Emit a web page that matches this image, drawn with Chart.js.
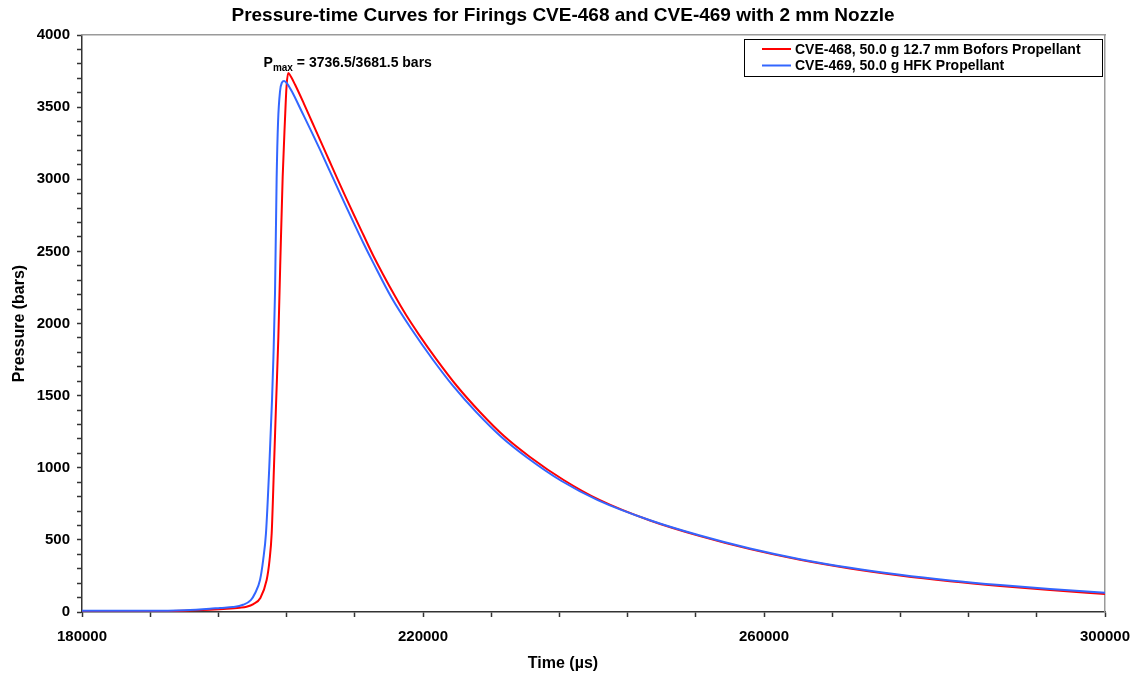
<!DOCTYPE html>
<html>
<head>
<meta charset="utf-8">
<script src="https://cdn.jsdelivr.net/npm/chart.js@4"></script>
<style>
  body { margin: 0; background: #ffffff; }
  canvas { display: block; }
</style>
</head>
<body>
<canvas id="ptChart" width="1138" height="677"></canvas>
<script>
// values
const seriesLabels = ["CVE-468, 50.0 g 12.7 mm Bofors Propellant", "CVE-469, 50.0 g HFK Propellant"];

const redTime = [180000, 184000, 188000, 192000, 195000, 197000, 198500, 199300, 200100, 200900, 201660, 202000, 202250, 202520, 202780, 203030, 203250, 203540, 203800, 204000, 204200, 204500, 205000, 206000, 207000, 208000, 209000, 210000, 211000, 212000, 213000, 214170, 216710, 218000, 219500, 221600, 224000, 226700, 229500, 232550, 236500, 240760, 246630, 252490, 258360, 264220, 270090, 275950, 281820, 287690, 293550, 300000];
const redPressure = [4, 4, 5, 8, 15, 22, 30, 37, 55, 95, 222, 360, 545, 1007, 1470, 1900, 2400, 3018, 3400, 3650, 3736.5, 3712, 3655, 3528, 3395, 3262, 3130, 2998, 2868, 2740, 2615, 2470, 2190, 2060, 1925, 1750, 1565, 1385, 1220, 1075, 915, 775, 634, 526, 436, 362, 302, 253, 213, 180, 152, 125];

const blueTime = [180000, 184000, 188000, 192000, 195000, 196200, 197700, 198900, 199800, 200300, 200880, 201250, 201580, 201970, 202290, 202450, 202640, 202830, 203000, 203230, 203450, 203700, 204100, 204700, 205770, 207000, 208000, 209000, 210000, 211000, 212000, 213000, 214170, 216300, 218600, 221100, 223500, 226300, 229200, 232200, 236200, 240500, 246630, 252490, 258360, 264220, 270090, 275950, 281820, 287690, 293550, 300000];
const bluePressure = [8, 8, 8, 12, 22, 28, 34, 50, 82, 130, 222, 360, 545, 1007, 1470, 1760, 2210, 3000, 3400, 3610, 3670, 3681.5, 3660, 3600, 3470, 3320, 3195, 3065, 2937, 2808, 2682, 2558, 2420, 2180, 1965, 1754, 1569, 1382, 1213, 1071, 910, 776, 636, 530, 440, 366, 306, 258, 219, 187, 160, 134];

const xMin = 180000, xMax = 300000, xMinorStep = 8000, xLabelStep = 40000;
const yMin = 0, yMax = 4000, yMinorStep = 100, yLabelStep = 500;

const annotTime = 201300, annotPressure = 3780;
const annotText = ["P", "max", " = 3736.5/3681.5 bars"];
const xTitle = 'Time (µs)';

const FONT = "'Liberation Sans', Arial, sans-serif";

function pairs(xs, ys) {
  return xs.map((x, i) => ({ x: x, y: ys[i] }));
}

const legendBox = {
  id: 'legendBox',
  afterDraw(chart) {
    const ctx = chart.ctx;
    const area = chart.chartArea;
    const w = 358, h = 37;
    const x0 = area.right - 3 - w, y0 = area.top + 4;
    ctx.save();
    ctx.fillStyle = '#ffffff';
    ctx.fillRect(x0, y0, w, h);
    ctx.strokeStyle = '#000000';
    ctx.lineWidth = 1;
    ctx.strokeRect(x0 + 0.5, y0 + 0.5, w, h);
    ctx.font = 'bold 14px ' + FONT;
    ctx.textBaseline = 'middle';
    ctx.fillStyle = '#000000';
    chart.data.datasets.forEach((ds, i) => {
      const y = y0 + 10 + i * 16.5;
      ctx.strokeStyle = ds.borderColor;
      ctx.lineWidth = 2;
      ctx.beginPath();
      ctx.moveTo(x0 + 18, y);
      ctx.lineTo(x0 + 47, y);
      ctx.stroke();
      ctx.fillText(ds.label, x0 + 51, y + 1);
    });
    ctx.restore();
  }
};

// Pmax note near the peaks, plus the x axis title centred on the whole canvas
const notes = {
  id: 'notes',
  afterDraw(chart) {
    const ctx = chart.ctx;
    const x = chart.scales.x.getPixelForValue(annotTime);
    const y = chart.scales.y.getPixelForValue(annotPressure);
    ctx.save();
    ctx.fillStyle = '#000000';
    ctx.textBaseline = 'alphabetic';
    ctx.font = 'bold 14px ' + FONT;
    ctx.fillText(annotText[0], x, y);
    let cx = x + ctx.measureText(annotText[0]).width;
    ctx.font = 'bold 10px ' + FONT;
    ctx.fillText(annotText[1], cx, y + 4);
    cx += ctx.measureText(annotText[1]).width;
    ctx.font = 'bold 14px ' + FONT;
    ctx.fillText(annotText[2], cx, y);

    ctx.font = 'bold 16px ' + FONT;
    ctx.textAlign = 'center';
    ctx.textBaseline = 'middle';
    ctx.fillText(xTitle, (chart.width - 12) / 2, chart.scales.x.bottom - 13);
    ctx.restore();
  }
};

const ctx = document.getElementById('ptChart').getContext('2d');

const chart = new Chart(ctx, {
  type: 'scatter',
  data: {
    datasets: [
      {
        label: seriesLabels[0],
        data: pairs(redTime, redPressure),
        showLine: true,
        borderColor: '#ff0000',
        backgroundColor: '#ff0000',
        borderWidth: 2,
        pointRadius: 0,
        cubicInterpolationMode: 'monotone',
        order: 1,
      },
      {
        label: seriesLabels[1],
        data: pairs(blueTime, bluePressure),
        showLine: true,
        borderColor: '#3366ff',
        backgroundColor: '#3366ff',
        borderWidth: 2,
        pointRadius: 0,
        cubicInterpolationMode: 'monotone',
        order: 0,
      },
    ]
  },
  plugins: [legendBox, notes],
  options: {
    responsive: false,
    animation: false,
    layout: { padding: { left: 0, top: 0, bottom: 0, right: 12 } },
    plugins: {
      legend: { display: false },
      tooltip: { enabled: false },
      title: {
        display: true,
        text: "Pressure-time Curves for Firings CVE-468 and CVE-469 with 2 mm Nozzle",
        color: '#000000',
        font: { family: FONT, size: 19, weight: 'bold' },
        padding: { top: 4, bottom: 8.2 },
      },
    },
    scales: {
      x: {
        type: 'linear',
        position: 'bottom',
        min: xMin,
        max: xMax,
        afterBuildTicks: scale => {
          const ticks = [];
          for (let v = xMin; v <= xMax; v += xMinorStep) ticks.push({ value: v });
          scale.ticks = ticks;
        },
        afterFit: scale => {
          scale.height = 65;
          scale.paddingLeft = 0;
          scale.paddingRight = 0;
        },
        grid: { display: true, drawOnChartArea: false, drawTicks: true, tickLength: 5, tickColor: '#333333', tickWidth: 1.5 },
        border: { color: '#333333', width: 1.5 },
        ticks: {
          autoSkip: false,
          maxRotation: 0,
          padding: 11,
          color: '#000000',
          font: { family: FONT, size: 15, weight: 'bold' },
          callback: v => ((v - xMin) % xLabelStep === 0 ? String(v) : ''),
        },
        title: { display: false },
      },
      y: {
        type: 'linear',
        position: 'left',
        min: yMin,
        max: yMax,
        afterFit: scale => { scale.width = 82; },
        grid: { display: true, drawOnChartArea: false, drawTicks: true, tickLength: 5, tickColor: '#333333', tickWidth: 1.5 },
        border: { color: '#333333', width: 1.5 },
        ticks: {
          stepSize: yMinorStep,
          autoSkip: false,
          padding: 7,
          color: '#000000',
          font: { family: FONT, size: 15, weight: 'bold' },
          callback: v => (v % yLabelStep === 0 ? String(v) : ''),
        },
        title: {
          display: true,
          text: 'Pressure (bars)',
          color: '#000000',
          font: { family: FONT, size: 16, weight: 'bold' },
          padding: { top: 10, bottom: 0 },
        },
      },
      xFrame: {
        type: 'linear',
        position: 'top',
        afterFit: scale => { scale.height = 0; },
        grid: { display: false },
        ticks: { display: false },
        border: { color: '#9a9a9a', width: 1.5 },
      },
      yFrame: {
        type: 'linear',
        position: 'right',
        afterFit: scale => { scale.width = 21; },
        grid: { display: false },
        ticks: { display: false },
        border: { color: '#9a9a9a', width: 1.5 },
      },
    }
  }
});
</script>
</body>
</html>
